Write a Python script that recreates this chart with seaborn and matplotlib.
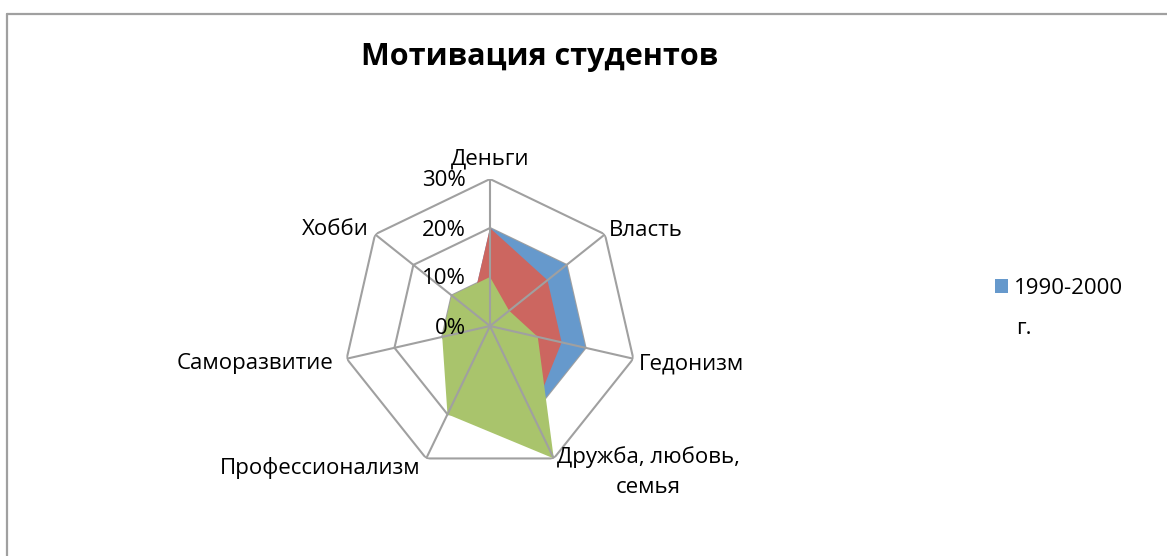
import numpy as np
import matplotlib
matplotlib.use("Agg")
import matplotlib.pyplot as plt
from matplotlib.patches import Patch
from matplotlib.lines import Line2D
from matplotlib.transforms import offset_copy
import seaborn as sns

# ---- data ----
categories = ["Деньги", "Власть", "Гедонизм", "Дружба, любовь,\nсемья",
              "Профессионализм", "Саморазвитие", "Хобби"]
series_blue = [20, 20, 20, 20, 10, 5, 5]     # 1990-2000 г.
series_red = [20, 15, 15, 20, 10, 5, 5]
series_green = [10, 5, 10, 30, 20, 10, 10]
radial_ticks = [0, 10, 20, 30]
radial_labels = ["0%", "10%", "20%", "30%"]
title = "Мотивация студентов"
legend_label = "1990-2000"
legend_label_cont = "г."

sns.set_theme(style="white")
plt.rcParams['font.family'] = ['Open Sans', 'DejaVu Sans']

W, H = 1167, 556
fig = plt.figure(figsize=(W / 100, H / 100), dpi=100)

cx, cy, R = 490, 326, 147
ax = fig.add_axes([(cx - R) / W, (H - cy - R) / H, 2 * R / W, 2 * R / H], projection='polar')
ax.set_theta_offset(np.pi / 2)
ax.set_theta_direction(-1)
ax.set_ylim(0, 30)
ax.grid(False)
ax.set_xticks([])
ax.set_yticks([])
ax.spines['polar'].set_visible(False)
ax.patch.set_alpha(0)

n = len(categories)
angles = np.linspace(0, 2 * np.pi, n, endpoint=False)
ang_c = np.append(angles, angles[0])

grid_col = "#A0A0A0"
# rings behind the filled areas
for r in radial_ticks[1:]:
    ax.plot(ang_c, [r] * (n + 1), color=grid_col, lw=1.5, zorder=1, solid_joinstyle='miter')

colors = ["#6699CC", "#CC6660", "#A9C46C"]
for vals, col in zip([series_blue, series_red, series_green], colors):
    v = np.append(vals, vals[0])
    ax.fill(ang_c, v, color=col, lw=0, zorder=2)

# spokes on top of the fills
for a in angles:
    ax.plot([a, a], [0, radial_ticks[-1]], color=grid_col, lw=1.5, zorder=3)

# radial labels
tr = offset_copy(ax.transData, fig=fig, x=-24, y=-2, units='dots')
for r, lab in zip(radial_ticks, radial_labels):
    ax.text(0, r, lab, transform=tr, ha='right', va='center', fontsize=16, color='black', zorder=5)

# category labels
offsets = [(0, 20, 'center'), (4, 4, 'left'), (6, -5, 'left'), (3, -14, 'left'),
           (-6, -10, 'right'), (-13, -5, 'right'), (-6, 5, 'right')]
for a, lab, (dx, dy, ha) in zip(angles, categories, offsets):
    t = offset_copy(ax.transData, fig=fig, x=dx, y=dy, units='dots')
    ax.text(a, radial_ticks[-1], lab, transform=t, ha=ha, va='center',
            multialignment='center', fontsize=16, color='black', linespacing=1.55, zorder=5)

fig.text(540 / W, 1 - 57 / H, title, ha='center', va='center', fontsize=22,
         fontweight='bold', color='black')

leg = fig.legend(handles=[Patch(facecolor=colors[0], edgecolor='none')], labels=[legend_label],
                 loc='center left', bbox_to_anchor=(995 / W, 1 - 288 / H), frameon=False,
                 fontsize=16, handlelength=0.6, handleheight=0.6, handletextpad=0.25,
                 borderpad=0, borderaxespad=0, labelcolor='black')
fig.text(1016 / W, 1 - 329 / H, legend_label_cont, ha='left', va='center', fontsize=16,
         color='black')

# outer chart frame (top and left edges visible)
fig.add_artist(Line2D([7 / W, 1.01], [1 - 14 / H, 1 - 14 / H], transform=fig.transFigure,
                      color="#A0A0A0", lw=1.6))
fig.add_artist(Line2D([7 / W, 7 / W], [1 - 14 / H, -0.01], transform=fig.transFigure,
                      color="#A0A0A0", lw=1.6))

fig.savefig("out.png", dpi=100, facecolor='white')
